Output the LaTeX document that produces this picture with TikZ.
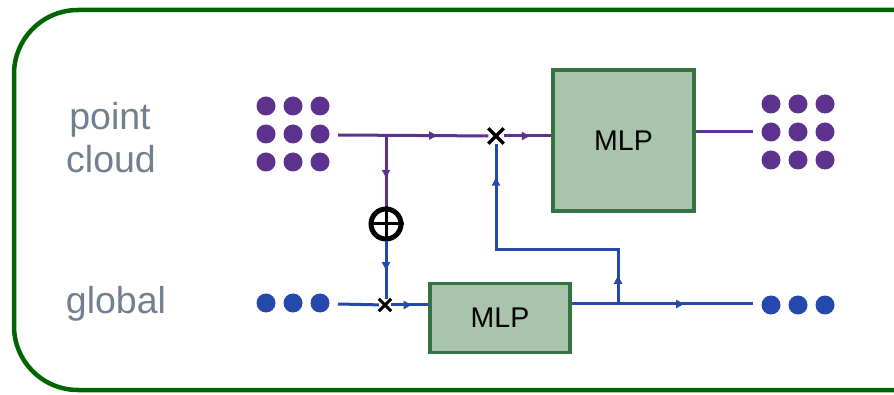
\documentclass[tikz,border=0pt]{standalone}
\usepackage{fontspec}
\setmainfont{Liberation Sans}
\usetikzlibrary{decorations.markings,arrows.meta}
\definecolor{pur}{RGB}{92,50,142}
\definecolor{blu}{RGB}{36,72,172}
\definecolor{boxfill}{RGB}{168,196,172}
\definecolor{boxline}{RGB}{52,116,66}
\definecolor{framegreen}{RGB}{0,100,0}
\definecolor{lblgray}{RGB}{112,128,144}
\begin{document}
\begin{tikzpicture}[x=1pt,y=-1pt,
 dot/.style={circle,inner sep=0pt,minimum size=19pt},
 pdot/.style={dot,fill=pur},
 bdot/.style={dot,fill=blu},
 mlp/.style={draw=boxline,fill=boxfill,line width=3.5pt,inner sep=0pt,font=\fontsize{28.5}{30}\selectfont},
 conn/.style={line width=3pt},
 marr/.style={postaction={decorate,decoration={markings,mark=at position #1 with {\arrow{Triangle[length=8pt,width=8pt]}}}}},
 lbl/.style={text=lblgray,font=\fontsize{37.5}{40}\selectfont,anchor=base,inner sep=0pt},
 mulnode/.style={inner sep=0pt,minimum size=#1},
 plusnode/.style={circle,draw=black,line width=5pt,minimum size=30pt,inner sep=0pt}
]
\useasboundingbox (0,0) rectangle (894,395);
\draw[framegreen,line width=4.5pt,rounded corners=64pt] (14,10) rectangle (960,390);

% labels
\node[lbl] (lpoint) at (110,130) {point};
\node[lbl] (lcloud) at (111,173) {cloud};
\node[lbl] (lglobal) at (116,313) {global};

% dot grids
\foreach \i/\x in {1/266,2/293,3/320} {
  \foreach \j/\y in {1/106,2/134,3/162} {
    \node[pdot] (pa\i\j) at (\x,\y) {};
  }
  \node[bdot] (ba\i) at (\x,303) {};
}
\foreach \i/\x in {1/771,2/798,3/825} {
  \foreach \j/\y in {1/104,2/132,3/160} {
    \node[pdot] (pb\i\j) at (\x,\y) {};
  }
  \node[bdot] (bb\i) at (\x,305) {};
}

% boxes
\node[mlp,minimum width=141pt,minimum height=141pt] (mlp1) at (623.5,140.5) {MLP};
\node[mlp,minimum width=140pt,minimum height=69pt] (mlp2) at (500,318) {MLP};

% operators
\node[mulnode=15pt] (xu) at (496,136) {};
\draw[line width=3.4pt] (xu.north west) -- (xu.south east) (xu.north east) -- (xu.south west);
\node[mulnode=12pt] (xl) at (385,305) {};
\draw[line width=3pt] (xl.north west) -- (xl.south east) (xl.north east) -- (xl.south west);
\node[plusnode] (plus) at (386,224) {};
\draw[line width=3pt] (plus.north) -- (plus.south) (plus.west) -- (plus.east);

% coordinates
\coordinate (pcout) at (338,135);
\coordinate (j1) at (386,135);
\coordinate (gout) at (338,304);
\coordinate (pcin) at (753,132);
\coordinate (gin) at (753,304);
\coordinate (j2) at (618,304);
\coordinate (c1) at (618,250);

% connectors
\draw[conn,pur,marr=0.66] (pcout) -- (xu);
\draw[conn,pur,marr=0.55] (xu) -- (mlp1.west |- xu);
\draw[conn,pur,marr=0.6] (j1) -- (plus);
\draw[conn,blu,marr=0.5] (plus) -- (xl.north -| plus);
\draw[conn,blu] (gout) -- (xl);
\draw[conn,blu,marr=0.55] (xl) -- (mlp2.west |- xl);
\draw[conn,pur] (mlp1.east |- pcin) -- (pcin);
\draw[conn,blu,marr=0.62] (mlp2.east |- gin) -- (gin);
\draw[conn,blu,marr=0.1,marr=0.88,line join=miter] (j2) -- (c1) -| (xu);
\end{tikzpicture}
\end{document}
